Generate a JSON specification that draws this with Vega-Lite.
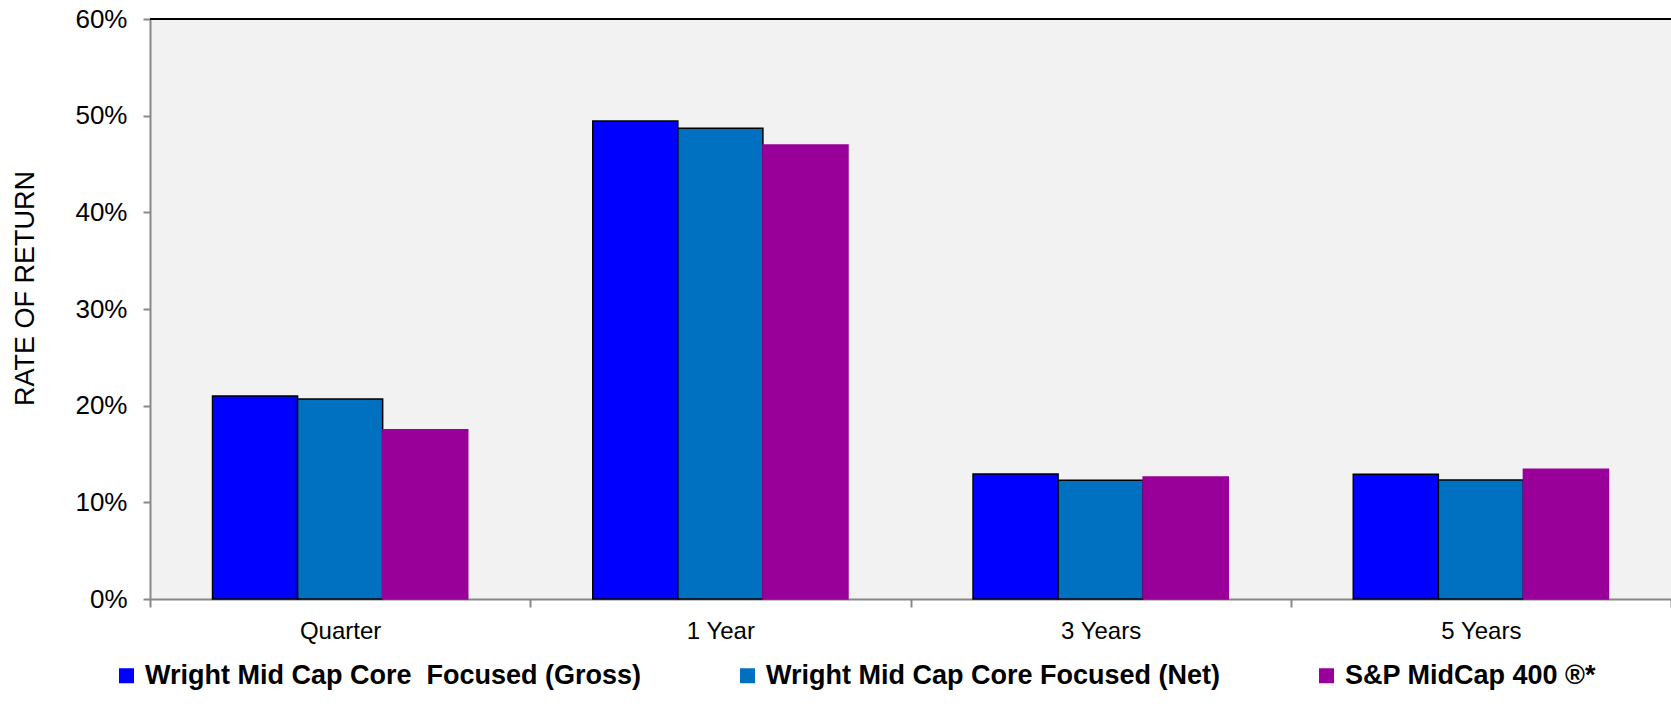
{
  "$schema": "https://vega.github.io/schema/vega-lite/v6.json",
  "width": 1521,
  "height": 580,
  "autosize": {"type": "none"},
  "padding": {"left": 150, "top": 19, "right": 0, "bottom": 105},
  "config": {
    "view": {"stroke": null, "fill": "#f2f2f2"},
    "font": "Liberation Sans"
  },
  "data": {
    "values": [
      {"period": "Quarter", "series": "Wright Mid Cap Core \u00a0Focused (Gross)", "value": 21.0},
      {"period": "Quarter", "series": "Wright Mid Cap Core Focused (Net)", "value": 20.7},
      {"period": "Quarter", "series": "S&P MidCap 400 ®*", "value": 17.5},
      {"period": "1 Year", "series": "Wright Mid Cap Core \u00a0Focused (Gross)", "value": 49.45},
      {"period": "1 Year", "series": "Wright Mid Cap Core Focused (Net)", "value": 48.7},
      {"period": "1 Year", "series": "S&P MidCap 400 ®*", "value": 46.96},
      {"period": "3 Years", "series": "Wright Mid Cap Core \u00a0Focused (Gross)", "value": 12.93},
      {"period": "3 Years", "series": "Wright Mid Cap Core Focused (Net)", "value": 12.28},
      {"period": "3 Years", "series": "S&P MidCap 400 ®*", "value": 12.62},
      {"period": "5 Years", "series": "Wright Mid Cap Core \u00a0Focused (Gross)", "value": 12.9},
      {"period": "5 Years", "series": "Wright Mid Cap Core Focused (Net)", "value": 12.31},
      {"period": "5 Years", "series": "S&P MidCap 400 ®*", "value": 13.42}
    ]
  },
  "layer": [
    {
      "mark": {"type": "bar", "strokeWidth": 1.5},
      "encoding": {
        "x": {
          "field": "period",
          "type": "nominal",
          "sort": ["Quarter", "1 Year", "3 Years", "5 Years"],
          "scale": {"paddingInner": 0, "paddingOuter": 0},
          "axis": {
            "title": null,
            "labelAngle": 0,
            "labelFont": "Liberation Sans",
            "labelFontSize": 24,
            "labelColor": "#000000",
            "labelPadding": 12,
            "tickBand": "extent",
            "tickSize": 8,
            "tickColor": "#888888",
            "tickWidth": 2,
            "domainColor": "#888888",
            "domainWidth": 2
          }
        },
        "xOffset": {
          "field": "series",
          "type": "nominal",
          "sort": ["Wright Mid Cap Core \u00a0Focused (Gross)", "Wright Mid Cap Core Focused (Net)", "S&P MidCap 400 ®*"],
          "scale": {"paddingInner": 0, "paddingOuter": 0.735}
        },
        "y": {
          "field": "value",
          "type": "quantitative",
          "scale": {"domain": [0, 60], "nice": false},
          "axis": {
            "title": "RATE OF RETURN",
            "titleFont": "Liberation Sans",
            "titleFontSize": 27,
            "titleFontWeight": "normal",
            "titleColor": "#000000",
            "titlePadding": 35,
            "titleY": 269,
            "values": [0, 10, 20, 30, 40, 50, 60],
            "labelExpr": "datum.value + '%'",
            "labelFont": "Liberation Sans",
            "labelFontSize": 26,
            "labelColor": "#000000",
            "labelPadding": 16,
            "tickSize": 7,
            "tickColor": "#888888",
            "tickWidth": 2,
            "domainColor": "#888888",
            "domainWidth": 2,
            "grid": false
          }
        },
        "color": {
          "field": "series",
          "type": "nominal",
          "sort": ["Wright Mid Cap Core \u00a0Focused (Gross)", "Wright Mid Cap Core Focused (Net)", "S&P MidCap 400 ®*"],
          "scale": {"range": ["#0000ff", "#0070c0", "#990099"]},
          "title": null,
          "legend": {
            "orient": "none",
            "direction": "horizontal",
            "legendX": -37,
            "legendY": 643,
            "padding": 0,
            "columnPadding": 92,
            "symbolType": "square",
            "symbolSize": 225,
            "symbolStrokeWidth": 1.5,
            "symbolOpacity": 1,
            "labelFont": "Liberation Sans",
            "labelFontSize": 27,
            "labelFontWeight": "bold",
            "labelColor": "#000000",
            "labelOffset": 5,
            "labelLimit": 800
          }
        },
        "stroke": {
          "field": "series",
          "type": "nominal",
          "sort": ["Wright Mid Cap Core \u00a0Focused (Gross)", "Wright Mid Cap Core Focused (Net)", "S&P MidCap 400 ®*"],
          "scale": {"range": ["#000000", "#000000", "#990099"]},
          "title": null
        }
      }
    },
    {
      "mark": {"type": "rule", "color": "#000000", "strokeWidth": 2},
      "encoding": {"y": {"datum": 60}}
    }
  ]
}
